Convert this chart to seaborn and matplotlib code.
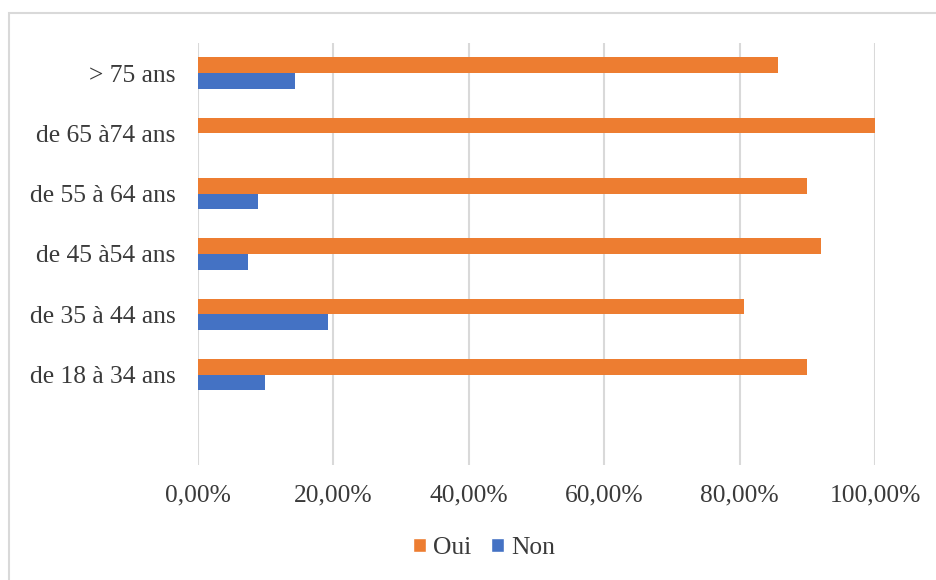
import matplotlib
matplotlib.use("Agg")
import matplotlib.pyplot as plt
import seaborn as sns
import pandas as pd
from matplotlib.ticker import FuncFormatter
from matplotlib.patches import Rectangle, Patch

categories = ["> 75 ans", "de 65 à74 ans", "de 55 à 64 ans", "de 45 à54 ans",
              "de 35 à 44 ans", "de 18 à 34 ans"]
oui = [85.7, 100.0, 89.9, 92.0, 80.6, 89.9]
non = [14.3, 0.0, 8.9, 7.4, 19.2, 9.9]
series = ["Oui", "Non"]
colors = ["#ED7D31", "#4472C4"]
xticks = [0, 20, 40, 60, 80, 100]

rows = []
for c, o, n in zip(categories, oui, non):
    rows.append({"cat": c, "serie": "Oui", "val": o})
    rows.append({"cat": c, "serie": "Non", "val": n})
df = pd.DataFrame(rows)

sns.set_style("white")
plt.rcParams["font.family"] = ["Liberation Serif", "DejaVu Serif"]
text_color = "#3a3a3a"

fig = plt.figure(figsize=(9.36, 5.8), dpi=100)
ax = fig.add_axes([198/936, 1-465/580, (875-198)/936, (465-43)/580])

order = categories + [" "]
sns.barplot(data=df, y="cat", x="val", hue="serie", order=order,
            hue_order=series, palette=colors, orient="h", width=0.52,
            gap=0, ax=ax, legend=False, saturation=1, errorbar=None,
            linewidth=0)

ax.set_xlim(0, 100)
ax.set_xticks(xticks)
ax.xaxis.set_major_formatter(FuncFormatter(lambda v, p: f"{v:.2f}%".replace(".", ",")))
ax.grid(axis="x", color="#d9d9d9", linewidth=1.5)
ax.set_axisbelow(True)
for s in ax.spines.values():
    s.set_visible(False)
ax.set_xlabel("")
ax.set_ylabel("")
ax.tick_params(axis="both", length=0, labelsize=18.4, colors=text_color)
ax.tick_params(axis="y", pad=16)
ax.tick_params(axis="x", pad=14)

handles = [Patch(facecolor=colors[0], label="Oui"), Patch(facecolor=colors[1], label="Non")]
fig.legend(handles=handles, loc="center", bbox_to_anchor=(484/936, 1-548/580),
           ncol=2, frameon=False, fontsize=18.4, handlelength=0.5, handleheight=0.5,
           handletextpad=0.3, columnspacing=0.75, labelcolor=text_color)

fig.patches.append(Rectangle((9/936, -0.05), 1.0, 1.05 - 13/580, transform=fig.transFigure,
                             fill=False, edgecolor="#d9d9d9", linewidth=1.5, zorder=-1))

fig.savefig("out.png", dpi=100, facecolor="white")
